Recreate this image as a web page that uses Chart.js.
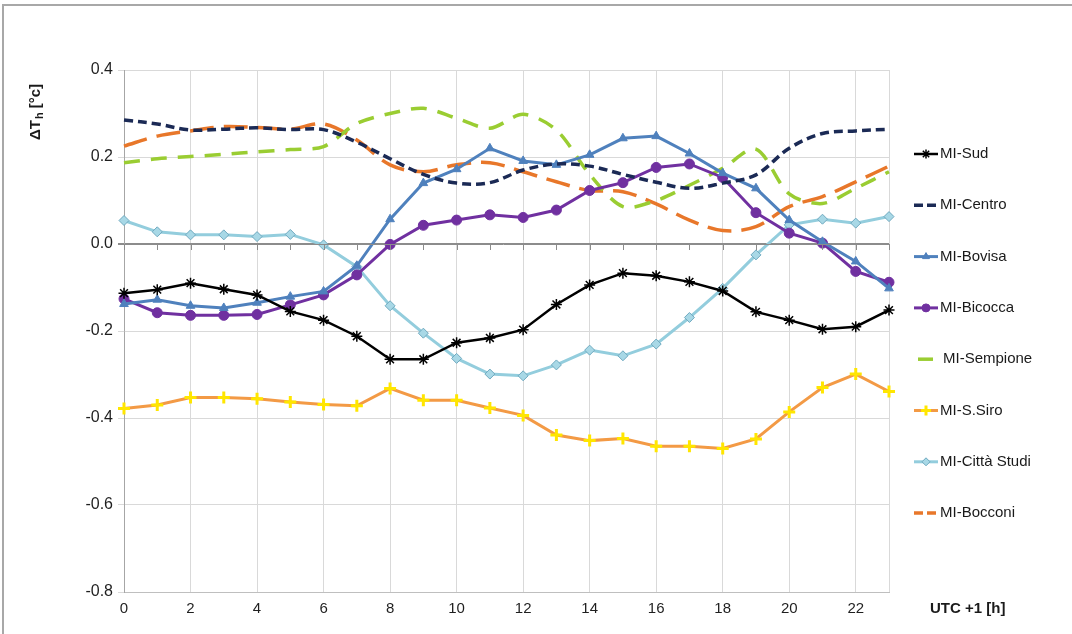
<!DOCTYPE html>
<html>
<head>
<meta charset="utf-8">
<script src="https://cdn.jsdelivr.net/npm/chart.js@4.4.1/dist/chart.umd.min.js"></script>
<style>
  html, body { margin: 0; padding: 0; background: #fff; }
  #wrap { width: 1072px; height: 634px; }
</style>
</head>
<body>
<div id="wrap"><canvas id="chartDT" width="1072" height="634"></canvas></div>
<script>
  const hours = [0, 1, 2, 3, 4, 5, 6, 7, 8, 9, 10, 11, 12, 13, 14, 15, 16, 17, 18, 19, 20, 21, 22, 23];
  const xTickValues = [0, 2, 4, 6, 8, 10, 12, 14, 16, 18, 20, 22];

  const sud = [-0.113, -0.105, -0.090, -0.104, -0.117, -0.155, -0.175, -0.212, -0.265, -0.265, -0.227, -0.216,
    -0.197, -0.139, -0.094, -0.067, -0.073, -0.087, -0.108, -0.156, -0.175, -0.196, -0.190, -0.152];
  const centro = [0.285, 0.276, 0.262, 0.264, 0.267, 0.263, 0.263, 0.234, 0.196, 0.160, 0.140, 0.141,
    0.170, 0.184, 0.179, 0.160, 0.142, 0.128, 0.140, 0.159, 0.220, 0.254, 0.260, 0.264];
  const bovisa = [-0.138, -0.128, -0.142, -0.147, -0.135, -0.121, -0.109, -0.050, 0.057, 0.140, 0.172, 0.220,
    0.191, 0.182, 0.205, 0.243, 0.248, 0.208, 0.163, 0.128, 0.055, 0.005, -0.040, -0.102];
  const bicocca = [-0.126, -0.158, -0.164, -0.164, -0.162, -0.140, -0.117, -0.071, -0.001, 0.043, 0.055, 0.067,
    0.061, 0.078, 0.123, 0.141, 0.176, 0.184, 0.153, 0.072, 0.025, 0.002, -0.063, -0.088];
  const sempione = [0.187, 0.196, 0.201, 0.206, 0.212, 0.217, 0.224, 0.277, 0.300, 0.312, 0.289, 0.266,
    0.298, 0.262, 0.160, 0.086, 0.100, 0.135, 0.174, 0.218, 0.115, 0.093, 0.128, 0.166];
  const ssiro = [-0.378, -0.370, -0.353, -0.353, -0.356, -0.363, -0.369, -0.372, -0.332, -0.359, -0.359, -0.377,
    -0.394, -0.439, -0.452, -0.447, -0.465, -0.465, -0.470, -0.448, -0.386, -0.330, -0.299, -0.339];
  const cittaStudi = [0.054, 0.028, 0.021, 0.021, 0.017, 0.022, -0.002, -0.052, -0.142, -0.205, -0.263, -0.299,
    -0.303, -0.278, -0.244, -0.257, -0.230, -0.169, -0.102, -0.025, 0.044, 0.057, 0.048, 0.063];
  const bocconi = [0.225, 0.248, 0.260, 0.270, 0.268, 0.264, 0.276, 0.239, 0.182, 0.166, 0.182, 0.187,
    0.166, 0.143, 0.123, 0.120, 0.092, 0.055, 0.031, 0.040, 0.086, 0.109, 0.143, 0.179];

  const FONT = '"Liberation Sans", Arial, sans-serif';

  function pts(vals) {
    return hours.map((h, i) => ({ x: h, y: vals[i] }));
  }

  const datasets = [
    { label: 'MI-Sud', data: pts(sud), borderColor: '#000000', backgroundColor: '#000000', borderWidth: 2.5,
      pointStyle: 'star', pointRadius: 5.5, pointBorderWidth: 1.5, tension: 0 },
    { label: 'MI-Centro', data: pts(centro), borderColor: '#1b2a55', backgroundColor: '#1b2a55', borderWidth: 3.5,
      borderDash: [9, 5], pointRadius: 0, tension: 0.35 },
    { label: 'MI-Bovisa', data: pts(bovisa), borderColor: '#4f81bd', backgroundColor: '#4f81bd', borderWidth: 3,
      pointStyle: 'triangle', pointRadius: 5, pointBorderWidth: 1, tension: 0 },
    { label: 'MI-Bicocca', data: pts(bicocca), borderColor: '#7030a0', backgroundColor: '#7030a0', borderWidth: 3,
      pointStyle: 'circle', pointRadius: 5, pointBorderWidth: 1, tension: 0 },
    { label: 'MI-Sempione', data: pts(sempione), borderColor: '#9acd32', backgroundColor: '#9acd32', borderWidth: 3.5,
      borderDash: [16, 11], pointRadius: 0, tension: 0.3 },
    { label: 'MI-S.Siro', data: pts(ssiro), borderColor: '#f39a45', backgroundColor: '#ffe600', borderWidth: 3,
      pointStyle: 'cross', pointRadius: 6, pointBorderColor: '#ffe600', pointBorderWidth: 3, tension: 0 },
    { label: 'MI-Città Studi', data: pts(cittaStudi), borderColor: '#93cddd', backgroundColor: '#a8d8e6', borderWidth: 3,
      pointStyle: 'rectRot', pointRadius: 5, pointBorderColor: '#6fa9bf', pointBorderWidth: 1, tension: 0 },
    { label: 'MI-Bocconi', data: pts(bocconi), borderColor: '#e8772a', backgroundColor: '#e8772a', borderWidth: 3.5,
      borderDash: [24, 10], pointRadius: 0, tension: 0.35 }
  ];
  datasets.forEach(ds => { ds.clip = 8; });

  // frame, zero-line ticks, axis titles and legend
  const extras = {
    id: 'extras',
    afterDraw(chart) {
      const c = chart.ctx;
      const xs = chart.scales.x;
      const ys = chart.scales.y;
      const area = chart.chartArea;
      c.save();

      // outer frame (top and left edges)
      c.strokeStyle = '#a8a8a8';
      c.lineWidth = 2;
      c.beginPath();
      c.moveTo(3, 634);
      c.lineTo(3, 5);
      c.lineTo(1072, 5);
      c.stroke();

      // small ticks along the zero line
      const y0 = ys.getPixelForValue(0);
      c.strokeStyle = '#8c8c8c';
      c.lineWidth = 1;
      c.beginPath();
      c.moveTo(area.left - 6, y0 + 0.5);
      c.lineTo(area.right, y0 + 0.5);
      hours.forEach(h => {
        const x = Math.round(xs.getPixelForValue(h)) + 0.5;
        c.moveTo(x, y0);
        c.lineTo(x, y0 + 6);
      });
      c.stroke();

      // x axis title
      c.fillStyle = '#1a1a1a';
      c.font = 'bold 15px ' + FONT;
      c.textBaseline = 'middle';
      c.textAlign = 'left';
      c.fillText('UTC +1 [h]', 930, 609);

      // y axis title, rotated
      c.translate(36, 140);
      c.rotate(-Math.PI / 2);
      c.font = 'bold 15px ' + FONT;
      c.fillText('\u0394T', 0, 0);
      let w = c.measureText('\u0394T').width;
      c.font = 'bold 11px ' + FONT;
      c.fillText('h', w + 1, 4);
      w += c.measureText('h').width + 2;
      c.font = 'bold 15px ' + FONT;
      c.fillText('[\u00b0c]', w + 3, 0);
      c.setTransform(1, 0, 0, 1, 0, 0);

      // legend
      chart.data.datasets.forEach((ds, i) => {
        const ly = 154 + i * 51.3;
        const short = ds.label === 'MI-Sempione';
        const x1 = short ? 918 : 914;
        const x2 = short ? 933 : 938;
        c.strokeStyle = ds.borderColor;
        c.lineWidth = ds.borderWidth;
        c.setLineDash(ds.borderDash && !short ? [Math.min(ds.borderDash[0], 9), 4] : []);
        c.beginPath();
        c.moveTo(x1, ly);
        c.lineTo(x2, ly);
        c.stroke();
        c.setLineDash([]);
        if (ds.pointRadius > 0) {
          c.fillStyle = ds.backgroundColor;
          c.strokeStyle = ds.pointBorderColor || ds.borderColor;
          c.lineWidth = ds.pointBorderWidth;
          Chart.helpers.drawPoint(c, { pointStyle: ds.pointStyle, radius: ds.pointRadius - 1, borderWidth: ds.pointBorderWidth, rotation: 0 }, 926, ly);
        }
        c.fillStyle = '#1a1a1a';
        c.font = '15px ' + FONT;
        c.textAlign = 'left';
        c.fillText(ds.label, short ? 943 : 940, ly);
      });

      c.restore();
    }
  };

  const ctx = document.getElementById('chartDT');

  new Chart(ctx, {
    type: 'line',
    data: { datasets: datasets },
    options: {
      responsive: false,
      animation: false,
      layout: { padding: { top: 70, right: 183, bottom: 0, left: 0 } },
      plugins: {
        legend: { display: false },
        tooltip: { enabled: false }
      },
      scales: {
        x: {
          type: 'linear',
          min: 0,
          max: 23,
          afterBuildTicks: axis => {
            axis.ticks = xTickValues.concat([23]).map(v => ({ value: v }));
          },
          afterFit: axis => { axis.height = 42; },
          ticks: {
            autoSkip: false,
            maxRotation: 0,
            padding: 8,
            color: '#1f1f1f',
            font: { family: FONT, size: 15 },
            callback: v => (v === 23 ? '' : v)
          },
          grid: { color: '#d9d9d9', drawTicks: false },
          border: { color: '#bfbfbf' }
        },
        y: {
          min: -0.8,
          max: 0.4,
          afterFit: axis => { axis.width = 124; },
          ticks: {
            stepSize: 0.2,
            padding: 5,
            color: '#1f1f1f',
            font: { family: FONT, size: 16 },
            callback: v => Number(v).toFixed(1)
          },
          grid: {
            color: c => (Math.abs(c.tick.value) < 1e-9 ? '#8c8c8c' : '#d9d9d9'),
            tickLength: 6
          },
          border: { color: '#a6a6a6' }
        }
      }
    },
    plugins: [extras]
  });
</script>
</body>
</html>
